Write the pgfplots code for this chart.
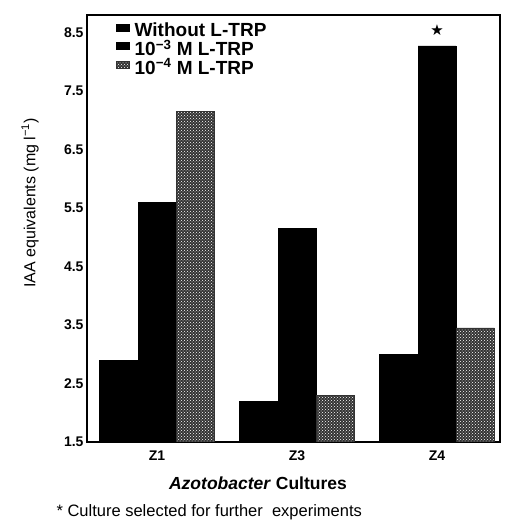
\documentclass[border=0pt]{standalone}
\usepackage{fontspec}
\setmainfont{Liberation Sans}
\newfontfamily\djv{DejaVu Sans}
\usepackage{pgfplots}
\pgfplotsset{compat=1.18}
\usetikzlibrary{patterns}
\begin{document}
\begin{tikzpicture}
\path[use as bounding box] (0,0) rectangle (505pt,525pt);
\begin{axis}[
  at={(87pt,83pt)}, anchor=south west,
  scale only axis, width=413pt, height=427pt,
  xmin=-0.5, xmax=2.45, ymin=1.5, ymax=8.8,
  ybar, bar width=0.27,
  xtick={0,1,2}, xticklabels={Z1,Z3,Z4},
  ytick={1.5,2.5,...,8.5},
  yticklabel style={/pgf/number format/.cd, fixed, fixed zerofill, precision=1},
  /pgf/number format/assume math mode=true,
  major tick length=0pt,
  axis line style={line width=1.6pt},
  ticklabel style={font=\fontsize{14}{16}\selectfont\bfseries},
  xticklabel style={yshift=-5pt},
  xlabel={\textit{Azotobacter} Cultures},
  xlabel style={font=\fontsize{17.5}{20}\selectfont\bfseries, at={(axis description cs:0.414,-0.096)}, anchor=center},
  ylabel={IAA equivalents (mg l\textsuperscript{−1})},
  ylabel style={font=\fontsize{16}{18}\selectfont, at={(axis description cs:-0.138,0.56)}, anchor=center, rotate=0},
  legend style={draw=none, fill=none, at={(axis description cs:0.068,0.99)}, anchor=north west,
     font=\fontsize{19}{20}\selectfont\bfseries, row sep=-2pt, inner sep=1pt},
  legend cell align=left,
  legend image code/.code={\fill[#1] (0pt,-1pt) rectangle (13pt,6pt); \path (16pt,0pt);},
]
\addplot[fill=black, draw=black, bar shift=-0.275] coordinates {(0,2.9) (1,2.2) (2,3.0)};
\addlegendentry{Without L-TRP}
\addplot[fill=black, draw=black, bar shift=0] coordinates {(0,5.6) (1,5.15) (2,8.27)};
\addlegendentry{10\textsuperscript{−3} M L-TRP}
\addplot[fill=black!80, draw=black!80, bar shift=0.275, postaction={pattern=crosshatch dots, pattern color=white}] coordinates {(0,7.15) (1,2.3) (2,3.45)};
\addlegendentry{10\textsuperscript{−4} M L-TRP}
\node[font=\djv\fontsize{15}{16}\selectfont] at (axis cs:2,8.55) {★};
\end{axis}
\node[anchor=west, font=\fontsize{16.5}{18}\selectfont] at ([xshift=-34pt,yshift=-70pt]current axis.south west) {* Culture selected for further\ \ experiments};
\end{tikzpicture}
\end{document}
